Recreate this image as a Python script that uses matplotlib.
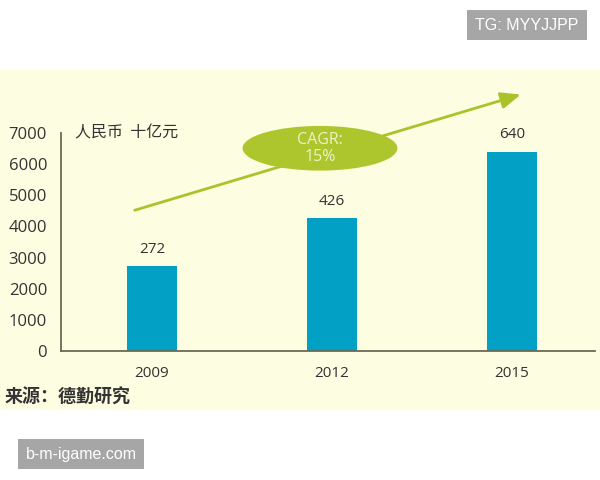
import matplotlib.pyplot as plt
from matplotlib.patches import Rectangle, Ellipse

plt.rcParams['font.family'] = ['Open Sans', 'Noto Sans CJK SC', 'DejaVu Sans']

# data
years = ['2009', '2012', '2015']
values = [2720, 4260, 6400]
bar_labels = ['272', '426', '640']
yticks = [0, 1000, 2000, 3000, 4000, 5000, 6000, 7000]

W, H = 600, 480
fig = plt.figure(figsize=(6, 4.8), dpi=100)
fig.patch.set_facecolor('white')

# cream band behind the chart
fig.patches.append(Rectangle((0, (H - 410) / H), 1, 340 / H, transform=fig.transFigure,
                             facecolor='#fdfde2', edgecolor='none', zorder=-5))

ax = fig.add_axes([61 / W, (H - 351) / H, 534 / W, 218 / H])
ax.set_facecolor('none')
x = range(len(years))
ax.bar(x, values, width=0.278, color='#02a0c4', zorder=2)
for xi, v, lab in zip(x, values, bar_labels):
    ax.annotate(lab, (xi, v), xytext=(0, 7), textcoords='offset points',
                ha='center', va='bottom', fontsize=11, color='#333333')

ax.set_xlim(-0.506, 2.461)
ax.set_ylim(0, 7000)
ax.set_xticks(list(x))
ax.set_xticklabels(years)
ax.set_yticks(yticks)
ax.tick_params(axis='both', length=0, colors='#333333')
ax.tick_params(axis='y', pad=10, labelsize=12)
ax.tick_params(axis='x', pad=11, labelsize=11)
for s in ['top', 'right']:
    ax.spines[s].set_visible(False)
for s in ['left', 'bottom']:
    ax.spines[s].set_color('#6b6a55')
    ax.spines[s].set_linewidth(1.3)

# unit label
ax.text(0.027, 1.0, '人民币  十亿元', transform=ax.transAxes, ha='left', va='center',
        fontsize=11.5, color='#333333', family=['Noto Sans CJK SC', 'DejaVu Sans'])

# CAGR arrow and bubble
ax.annotate('', xy=(0.866, 1.18), xytext=(0.133, 0.642), xycoords='axes fraction',
            textcoords='axes fraction',
            arrowprops=dict(arrowstyle='-|>,head_length=1.2,head_width=0.5',
                            color='#a8c42a', lw=2), annotation_clip=False)
ax.add_patch(Ellipse((0.485, 0.93), 0.29, 0.205, transform=ax.transAxes,
                     facecolor='#aec62e', edgecolor='none', clip_on=False, zorder=3))
ax.text(0.485, 0.93, 'CAGR:\n15%', transform=ax.transAxes, ha='center', va='center',
        fontsize=11.5, color='#eef2c4', linespacing=1.05, zorder=4)

# source
fig.text(5 / W, 1 - 397 / H, '来源：德勤研究', ha='left', va='center', fontsize=13,
         fontweight='bold', color='#333333', family=['Noto Sans CJK SC', 'DejaVu Sans'])

# watermark boxes
wm = dict(ha='center', va='center', fontsize=11.5, color='white',
          family=['Liberation Sans', 'DejaVu Sans'])
fig.text(527 / W, 1 - 25 / H, 'TG: MYYJJPP', **wm,
         bbox=dict(boxstyle='square,pad=0.5', facecolor='#a6a6a6', edgecolor='none'))
fig.text(81 / W, 1 - 454 / H, 'b-m-igame.com', **wm,
         bbox=dict(boxstyle='square,pad=0.5', facecolor='#a6a6a6', edgecolor='none'))

fig.savefig('out.png', dpi=100)
